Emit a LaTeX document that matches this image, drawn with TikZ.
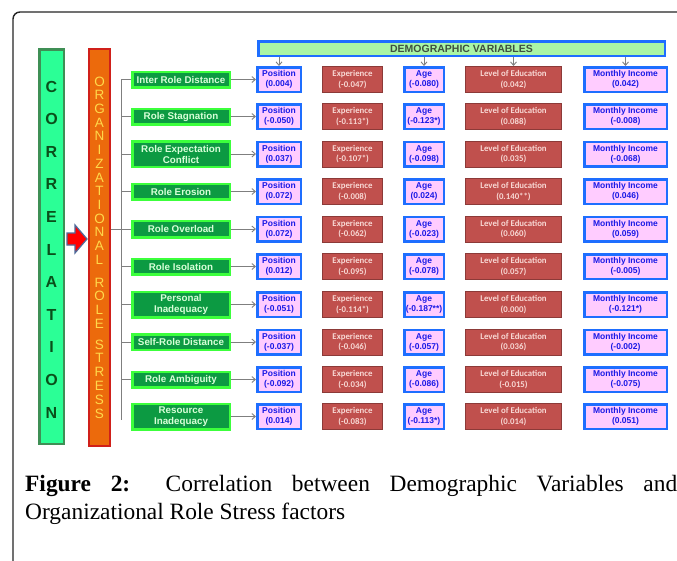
\documentclass[tikz,border=0pt]{standalone}
\usepackage{fontspec}
\setmainfont{Liberation Serif}
\newfontfamily\arialf{Liberation Sans}
\newfontfamily\calibf{Carlito}
\usetikzlibrary{arrows.meta}
\definecolor{corrfill}{HTML}{2BFF96}
\definecolor{corrdraw}{HTML}{3F8F55}
\definecolor{corrtext}{HTML}{0A4F1A}
\definecolor{orgfill}{HTML}{EC6A0C}
\definecolor{orgdraw}{HTML}{D0201A}
\definecolor{orgtext}{HTML}{FFD84A}
\definecolor{facfill}{HTML}{0C9A42}
\definecolor{facdraw}{HTML}{3CFF3C}
\definecolor{factext}{HTML}{D8FFD8}
\definecolor{pinkfill}{HTML}{FFCCFF}
\definecolor{bluedraw}{HTML}{1E6EFF}
\definecolor{bluetext}{HTML}{1A1AE6}
\definecolor{redfill}{HTML}{C0504D}
\definecolor{reddraw}{HTML}{8C3A38}
\definecolor{redtext}{HTML}{F8D8D4}
\definecolor{hdrfill}{HTML}{AAF5A5}
\definecolor{hdrtext}{HTML}{3F503F}
\definecolor{connc}{HTML}{7F7F7F}
\definecolor{arrowedge}{HTML}{4F6A9A}
\tikzset{
  corrbox/.style={draw=corrdraw, line width=2.5pt, fill=corrfill, inner sep=0,
    minimum width=24.5pt, minimum height=394.5pt},
  orgbox/.style={draw=orgdraw, line width=2pt, fill=orgfill, inner sep=0,
    minimum width=21pt, minimum height=397pt},
  corrletter/.style={inner sep=0, text=corrtext, font=\arialf\bfseries\fontsize{16}{16}\selectfont},
  orgletter/.style={inner sep=0, text=orgtext, font=\arialf\fontsize{13.5}{13.5}\selectfont},
  facbox/.style={draw=facdraw, line width=2.5pt, fill=facfill, inner sep=0,
    minimum width=97.5pt, text=factext, align=center,
    font=\arialf\bfseries\fontsize{9.8}{11}\selectfont},
  bluebox/.style={draw=bluedraw, line width=2.5pt, fill=pinkfill, inner sep=0,
    minimum height=24.5pt, text=bluetext, align=center,
    font=\arialf\bfseries\fontsize{8.5}{10}\selectfont},
  redbox/.style={draw=reddraw, line width=1pt, fill=redfill, inner sep=0,
    minimum height=26pt, text=redtext, align=center,
    font=\calibf\bfseries\fontsize{8.8}{10.5}\selectfont},
  hdrbox/.style={draw=bluedraw, line width=2.5pt, fill=hdrfill, inner sep=0,
    minimum width=406.5pt, minimum height=14.5pt, text=hdrtext,
    font=\arialf\bfseries\fontsize{10.5}{10.5}\selectfont},
  connline/.style={draw=connc, line width=0.9pt},
  connarrow/.style={draw=connc, line width=0.9pt, -{Straight Barb[length=3.5pt,width=6pt]}},
  captext/.style={inner sep=0, anchor=base west, font=\fontsize{23.4}{28}\selectfont},
}
\begin{document}
\begin{tikzpicture}[x=1pt,y=-1pt]
\useasboundingbox (0,0) rectangle (677,560);
\fill[white] (0,0) rectangle (677,560);
\begin{scope}
\clip (0,0) rectangle (677,560);
\draw[line width=1.4pt, draw=black!85, rounded corners=7pt] (13,12) rectangle (700,590);
\end{scope}

% CORRELATION column
\node[corrbox] (corr) at (51.5,246.5) {};
\foreach \ch [count=\k from 0] in {C,O,R,R,E,L,A,T,I,O,N}
  \node[corrletter] (cl\k) at (51.5,{86.5+32.6*\k}) {\ch};

% ORGANIZATIONAL ROLE STRESS column
\node[orgbox] (org) at (99.5,247.5) {};
\foreach \ch [count=\k from 0] in {O,R,G,A,N,I,Z,A,T,I,O,N,A,L}
  \node[orgletter] (oa\k) at (99.5,{81.5+13.7*\k}) {\ch};
\foreach \ch [count=\k from 0] in {R,O,L,E}
  \node[orgletter] (ob\k) at (99.5,{282.5+13.7*\k}) {\ch};
\foreach \ch [count=\k from 0] in {S,T,R,E,S,S}
  \node[orgletter] (oc\k) at (99.5,{344.5+13.8*\k}) {\ch};

% red arrow
\draw[fill=red, draw=arrowedge, line width=1.2pt, line join=miter]
  (67,233) -- (75,233) -- (75,225) -- (87,239) -- (75,253) -- (75,245) -- (67,245) -- cycle;

% header
\node[hdrbox] (hdr) at (461.5,48.5) {DEMOGRAPHIC VARIABLES};

% rows
\foreach \i/\y/\fac/\fh/\p/\e/\a/\l/\m in {
  1/79.5/{Inter Role Distance}/15.5/0.004/-0.047/-0.080/0.042/0.042,
  2/116.5/{Role Stagnation}/15.5/-0.050/-0.113*/-0.123*/0.088/-0.008,
  3/154/{Role Expectation\\Conflict}/25.5/0.037/-0.107*/-0.098/0.035/-0.068,
  4/191.5/{Role Erosion}/15.5/0.072/-0.008/0.024/0.140**/0.046,
  5/229/{Role Overload}/16.5/0.072/-0.062/-0.023/0.060/0.059,
  6/266.5/{Role Isolation}/15.5/0.012/-0.095/-0.078/0.057/-0.005,
  7/304.5/{Personal\\Inadequacy}/25.5/-0.051/-0.114*/-0.187**/0.000/-0.121*,
  8/342/{Self-Role Distance}/15.5/-0.037/-0.046/-0.057/0.036/-0.002,
  9/379.5/{Role Ambiguity}/15.5/-0.092/-0.034/-0.086/-0.015/-0.075,
  10/416.5/{Resource\\Inadequacy}/25.5/0.014/-0.083/-0.113*/0.014/0.051}{
  \node[facbox, minimum height=\fh pt] (f\i) at (181,\y) {\fac};
  \node[bluebox, minimum width=43.5pt] (p\i) at (279,\y) {Position\\(\p)};
  \node[redbox, minimum width=60pt] (e\i) at (352.5,\y) {Experience\\(\e)};
  \node[bluebox, minimum width=39.5pt] (a\i) at (424,\y) {Age\\(\a)};
  \node[redbox, minimum width=96pt] (l\i) at (513.5,\y) {Level of Education\\(\l)};
  \node[bluebox, minimum width=82.5pt] (m\i) at (625.5,\y) {Monthly Income\\(\m)};
  \draw[connarrow] (f\i.east) -- (p\i.west);
}

% bracket
\coordinate (btop) at (121,79.5);
\coordinate (bbot) at (121,420);
\draw[connline] (f1.west) -- (btop) -- (bbot);
\foreach \i in {2,3,4,6,7,8,9}
  \draw[connline] (f\i.west) -- (f\i.west -| btop);
\draw[connline] (org.east |- f5.west) -- (f5.west);

% header arrows
\foreach \n in {p1,a1,l1,m1}
  \draw[connarrow] (hdr.south -| \n.north) -- (\n.north);

% caption
\node[captext] (cap1) at (25,491) {\makebox[652pt][s]{\textbf{Figure 2:} Correlation between Demographic Variables and}};
\node[captext] (cap2) at (25,519) {Organizational Role Stress factors};
\end{tikzpicture}
\end{document}
